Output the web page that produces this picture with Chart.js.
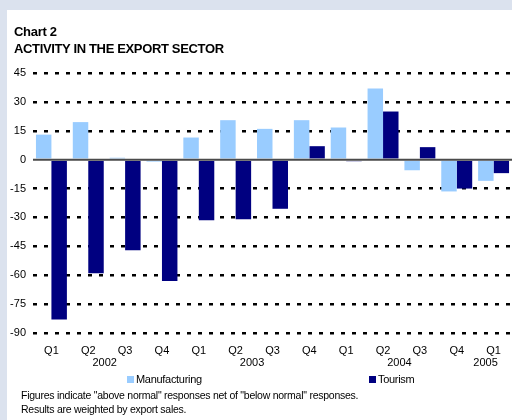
<!DOCTYPE html>
<html>
<head>
<meta charset="utf-8">
<script src="https://cdn.jsdelivr.net/npm/chart.js@4.4.0/dist/chart.umd.min.js"></script>
<style>
  html, body { margin: 0; padding: 0; width: 512px; height: 420px; overflow: hidden; background: #dbe2ee; }
  #panel { position: absolute; left: 7px; top: 10px; width: 505px; height: 410px; background: #ffffff; }
  #wrap { position: absolute; left: 0; top: 0; width: 512px; height: 420px; }
  .t { position: absolute; font-family: "Liberation Sans", Arial, sans-serif; color: #000; white-space: nowrap; }
  #t1 { left: 14px; top: 24px; font-size: 13px; font-weight: bold; letter-spacing: -0.3px; }
  #t2 { left: 14px; top: 41px; font-size: 13px; font-weight: bold; letter-spacing: -0.35px; }
  #leg { left: 0; top: 373px; width: 512px; height: 14px; font-size: 11px; letter-spacing: -0.3px; }
  .li { position: absolute; top: 0; }
  .sw { display: inline-block; width: 7px; height: 7px; margin-right: 2px; vertical-align: 0px; }
  #f1 { left: 21px; top: 389px; font-size: 10.5px; letter-spacing: -0.25px; }
  #f2 { left: 21px; top: 403px; font-size: 10.5px; letter-spacing: -0.25px; }
</style>
</head>
<body>
<div id="panel"></div>
<div id="wrap"><canvas id="c" width="512" height="420"></canvas></div>
<div class="t" id="t1">Chart 2</div>
<div class="t" id="t2">ACTIVITY IN THE EXPORT SECTOR</div>
<div class="t" id="leg"></div>
<div class="t" id="f1">Figures indicate "above normal" responses net of "below normal" responses.</div>
<div class="t" id="f2">Results are weighted by export sales.</div>
<script>
// ---- data ----
const quarters = ['Q1','Q2','Q3','Q4','Q1','Q2','Q3','Q4','Q1','Q2','Q3','Q4','Q1'];
const years = ['2002','2003','2004','2005'];
const yearQuarterCounts = [4, 4, 4, 1];
const manufacturing = [13, 19.5, 1, -1, 11.5, 20.5, 16, 20.5, 16.7, 37, -5.5, -16.5, -11];
const tourism = [-83, -59, -47, -63, -31.5, -31, -25.5, 7, -0.8, 25, 6.5, -15, -7];
const seriesNames = ['Manufacturing', 'Tourism'];
const seriesColors = ['#99ccff', '#000080'];
const yTicks = [45, 30, 15, 0, -15, -30, -45, -60, -75, -90];

// ---- HTML legend ----
const leg = document.getElementById('leg');
const legPos = [127, 369];
seriesNames.forEach((n, i) => {
  const d = document.createElement('span');
  d.className = 'li';
  d.style.left = legPos[i] + 'px';
  d.innerHTML = '<span class="sw" style="background:' + seriesColors[i] + '"></span>' + n;
  leg.appendChild(d);
});

const FONT = '"Liberation Sans", Arial, sans-serif';

const extras = {
  id: 'extras',
  afterDatasetsDraw(chart) {
    const ctx = chart.ctx;
    const y = chart.scales.y;
    const ca = chart.chartArea;
    const y0 = y.getPixelForValue(0);
    ctx.save();
    ctx.strokeStyle = '#4a4a4a';
    ctx.lineWidth = 2;
    ctx.beginPath();
    ctx.moveTo(ca.left, y0);
    ctx.lineTo(ca.right, y0);
    ctx.stroke();
    ctx.restore();
  },
  afterDraw(chart) {
    const ctx = chart.ctx;
    const x = chart.scales.x;
    ctx.save();
    ctx.fillStyle = '#000';
    ctx.font = '11px ' + FONT;
    ctx.textAlign = 'center';
    ctx.textBaseline = 'middle';
    let start = 0;
    years.forEach((yr, i) => {
      const n = yearQuarterCounts[i];
      const mid = start + (n - 1) / 2;
      const px = (n > 1) ? x.getPixelForValue(mid) : x.getPixelForValue(mid) - 6;
      ctx.fillText(yr, px - 2, 363);
      start += n;
    });
    ctx.restore();
  }
};

new Chart(document.getElementById('c'), {
  type: 'bar',
  data: {
    labels: quarters,
    datasets: [
      { label: seriesNames[0], data: manufacturing, backgroundColor: seriesColors[0], borderWidth: 0 },
      { label: seriesNames[1], data: tourism, backgroundColor: seriesColors[1], borderWidth: 0 }
    ]
  },
  options: {
    responsive: false,
    animation: false,
    devicePixelRatio: 1,
    layout: { padding: { top: 73, left: 0, right: 0, bottom: 0 } },
    plugins: { legend: { display: false }, title: { display: false }, tooltip: { enabled: false } },
    datasets: { bar: { categoryPercentage: 0.84, barPercentage: 1.0 } },
    scales: {
      x: {
        grid: { display: false, drawTicks: false },
        border: { display: false },
        ticks: { color: '#000', font: { family: FONT, size: 11 }, padding: 11, maxRotation: 0, autoSkip: false },
        afterFit(s) { s.height = 87; }
      },
      y: {
        min: -90, max: 45,
        afterBuildTicks(s) { s.ticks = yTicks.map(v => ({ value: v })); },
        grid: {
          drawTicks: false,
          color: (c) => (c.tick && c.tick.value === 0) ? 'rgba(0,0,0,0)' : '#000',
          lineWidth: 2.5
        },
        border: { display: false, dash: [4, 7] },
        ticks: { color: '#000', font: { family: FONT, size: 11 }, padding: 7 },
        afterFit(s) { s.width = 33; }
      }
    }
  },
  plugins: [extras]
});
</script>
</body>
</html>
